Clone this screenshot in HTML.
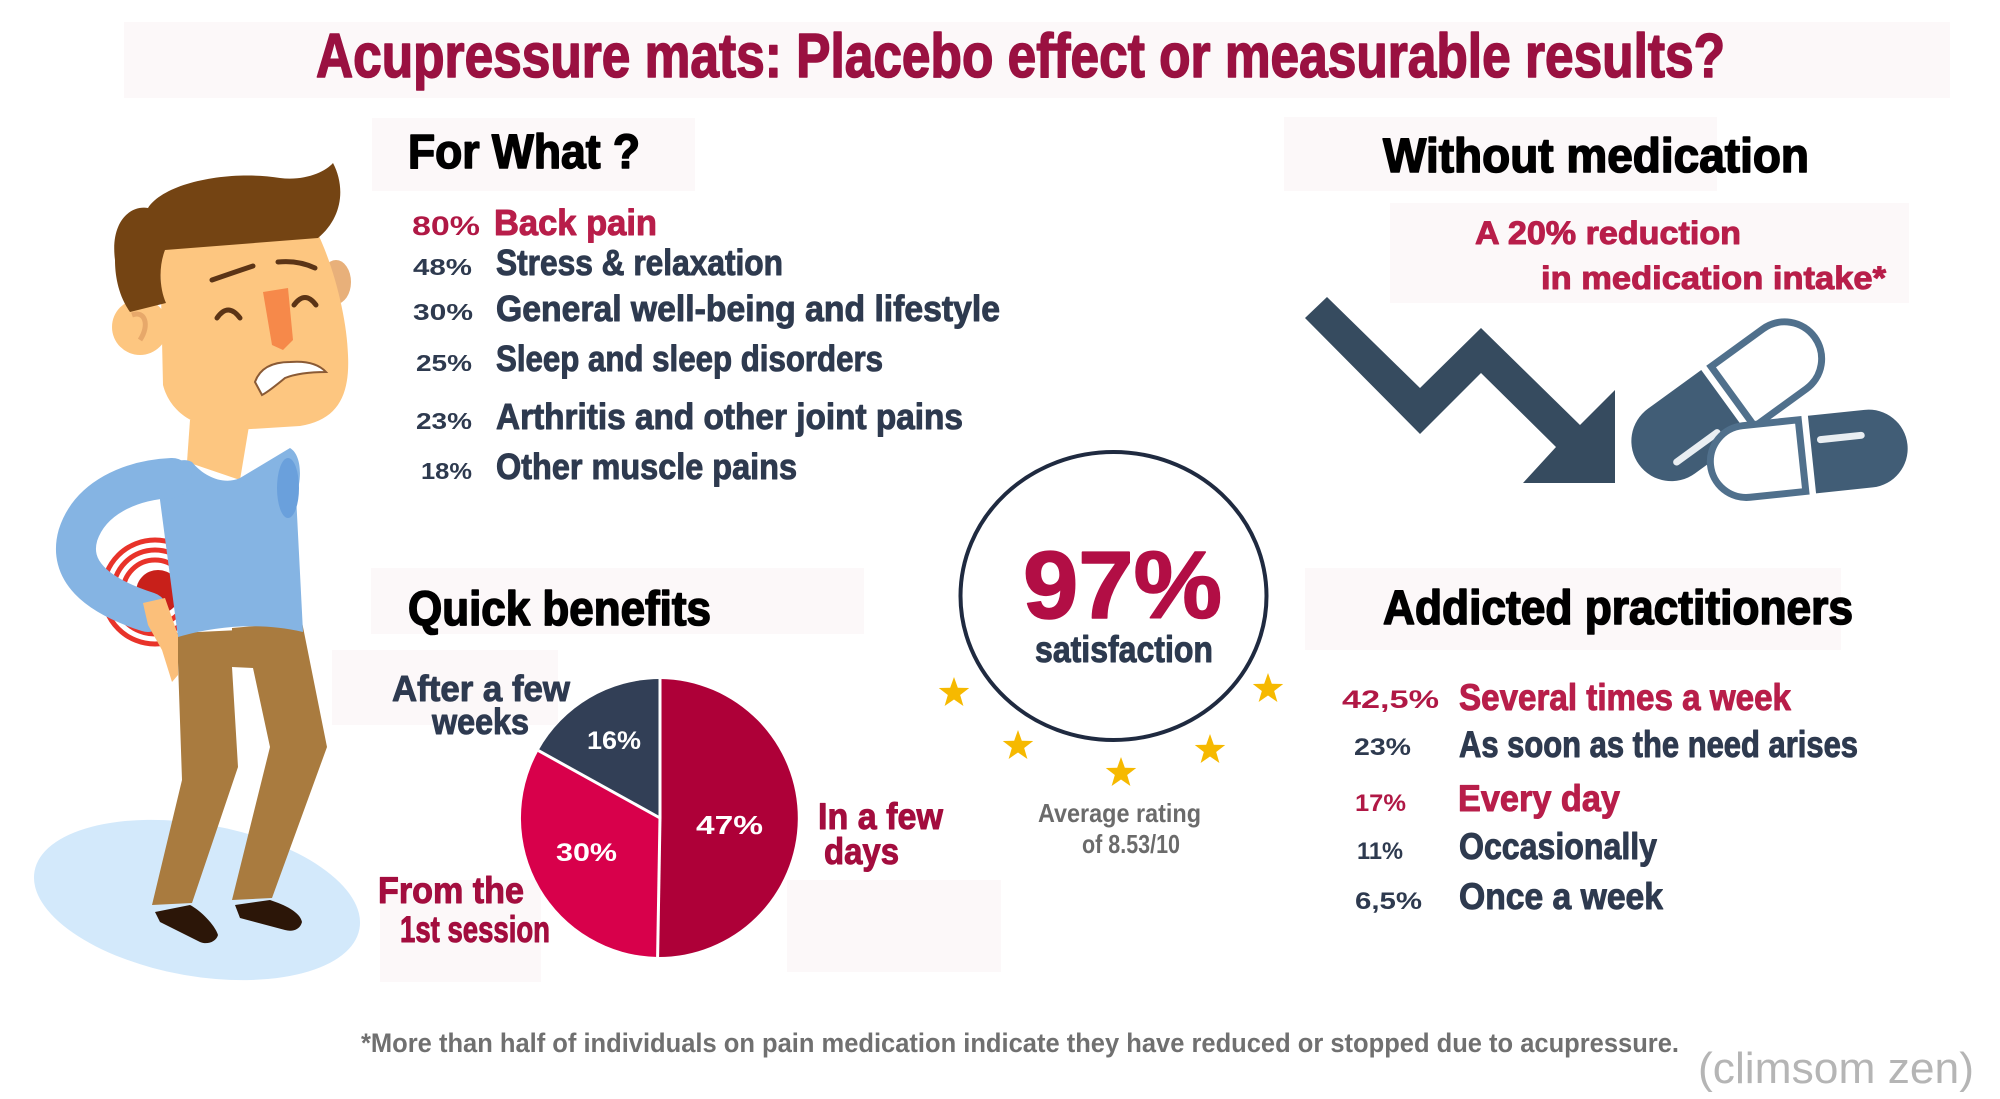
<!DOCTYPE html>
<html>
<head>
<meta charset="utf-8">
<style>
  html,body{margin:0;padding:0;background:#ffffff;}
  svg{display:block;}
  text{font-family:"Liberation Sans", "DejaVu Sans", sans-serif;font-weight:bold;}
  .h{stroke-width:1.6;stroke-linejoin:round;}
  .m{stroke-width:1;stroke-linejoin:round;}
</style>
</head>
<body>
<svg width="2000" height="1099" viewBox="0 0 2000 1099" xmlns="http://www.w3.org/2000/svg">
  <rect x="0" y="0" width="2000" height="1099" fill="#ffffff"/>

  <!-- faint background boxes -->
  <g fill="#fcf8f9">
    <rect x="124" y="22" width="1826" height="76"/>
    <rect x="372" y="118" width="323" height="73"/>
    <rect x="1284" y="117" width="433" height="74"/>
    <rect x="1390" y="203" width="519" height="100"/>
    <rect x="371" y="568" width="493" height="66"/>
    <rect x="332" y="650" width="226" height="75"/>
    <rect x="380" y="880" width="161" height="102"/>
    <rect x="787" y="880" width="214" height="92"/>
    <rect x="1305" y="568" width="536" height="82"/>
  </g>

  <!-- Title -->
  <text class="h" x="316" y="77" font-size="62" fill="#9a1141" stroke="#9a1141" textLength="1409" lengthAdjust="spacingAndGlyphs">Acupressure mats: Placebo effect or measurable results?</text>

  <!-- Section headers -->
  <text class="h" x="408" y="168" font-size="48" fill="#000000" stroke="#000000" textLength="232" lengthAdjust="spacingAndGlyphs">For What ?</text>
  <text class="h" x="1383" y="172" font-size="48" fill="#000000" stroke="#000000" textLength="426" lengthAdjust="spacingAndGlyphs">Without medication</text>
  <text class="h" x="408" y="625" font-size="48" fill="#000000" stroke="#000000" textLength="303" lengthAdjust="spacingAndGlyphs">Quick benefits</text>
  <text class="h" x="1383" y="624" font-size="48" fill="#000000" stroke="#000000" textLength="470" lengthAdjust="spacingAndGlyphs">Addicted practitioners</text>

  <!-- For What list -->
  <text x="412" y="235" font-size="27" fill="#b01845" textLength="68" lengthAdjust="spacingAndGlyphs">80%</text>
  <text class="m" x="494" y="235" font-size="36" fill="#b81e4a" stroke="#b81e4a" textLength="163" lengthAdjust="spacingAndGlyphs">Back pain</text>
  <g fill="#2e3a4f">
    <text x="413" y="275" font-size="23" textLength="59" lengthAdjust="spacingAndGlyphs">48%</text>
    <text class="m" stroke="#2e3a4f" x="496" y="275" font-size="36" textLength="287" lengthAdjust="spacingAndGlyphs">Stress &amp; relaxation</text>
    <text x="413" y="320" font-size="23" textLength="60" lengthAdjust="spacingAndGlyphs">30%</text>
    <text class="m" stroke="#2e3a4f" x="496" y="321" font-size="36" textLength="504" lengthAdjust="spacingAndGlyphs">General well-being and lifestyle</text>
    <text x="416" y="371" font-size="23" textLength="56" lengthAdjust="spacingAndGlyphs">25%</text>
    <text class="m" stroke="#2e3a4f" x="496" y="371" font-size="36" textLength="387" lengthAdjust="spacingAndGlyphs">Sleep and sleep disorders</text>
    <text x="416" y="429" font-size="23" textLength="56" lengthAdjust="spacingAndGlyphs">23%</text>
    <text class="m" stroke="#2e3a4f" x="496" y="429" font-size="36" textLength="467" lengthAdjust="spacingAndGlyphs">Arthritis and other joint pains</text>
    <text x="421" y="479" font-size="23" textLength="51" lengthAdjust="spacingAndGlyphs">18%</text>
    <text class="m" stroke="#2e3a4f" x="496" y="479" font-size="36" textLength="301" lengthAdjust="spacingAndGlyphs">Other muscle pains</text>
  </g>

  <!-- Without medication subtitle -->
  <text class="m" x="1475" y="244" font-size="32" fill="#b81e4a" stroke="#b81e4a" textLength="266" lengthAdjust="spacingAndGlyphs">A 20% reduction</text>
  <text class="m" x="1541" y="289" font-size="32" fill="#b81e4a" stroke="#b81e4a" textLength="345" lengthAdjust="spacingAndGlyphs">in medication intake*</text>

  <!-- Zigzag arrow -->
  <polygon points="1327,297 1420,388 1481,328 1580,425 1615,390 1615,483 1523,483 1556,447 1481,373 1420,434 1305,318" fill="#364b5f"/>

  <!-- Pills -->
  <g transform="translate(1728,400) rotate(-36)">
    <path d="M-4,-40 L-70,-40 A40,40 0 0 0 -70,40 L-4,40 Z" fill="#415d76"/>
    <line x1="-78" y1="20" x2="-28" y2="20" stroke="#e9eef2" stroke-width="7" stroke-linecap="round"/>
    <path d="M6,-37 L70,-37 A37,37 0 0 1 70,37 L6,37 Z" fill="#ffffff" stroke="#50708c" stroke-width="7"/>
  </g>
  <g transform="translate(1808,455) rotate(-6)">
    <path d="M-6,-36 L-62,-36 A36,36 0 0 0 -62,36 L-6,36 Z" fill="#ffffff" stroke="#50708c" stroke-width="7"/>
    <path d="M4,-39 L61,-39 A39,39 0 0 1 61,39 L4,39 Z" fill="#415d76"/>
    <line x1="14" y1="-14" x2="55" y2="-14" stroke="#e9eef2" stroke-width="7" stroke-linecap="round"/>
  </g>

  <!-- Satisfaction circle -->
  <ellipse cx="1113.5" cy="596" rx="153" ry="144" fill="none" stroke="#1f2a40" stroke-width="4"/>
  <text class="h" x="1023" y="618" font-size="96" fill="#b20e45" stroke="#b20e45" textLength="199" lengthAdjust="spacingAndGlyphs">97%</text>
  <text class="m" x="1035" y="662" font-size="37" fill="#2d3a4f" stroke="#2d3a4f" textLength="178" lengthAdjust="spacingAndGlyphs">satisfaction</text>

  <!-- Stars -->
  <g fill="#f6b900">
    <polygon transform="translate(954,693)" points="0,-16 3.82,-5.26 15.22,-4.94 6.18,2.01 9.40,12.94 0,6.5 -9.40,12.94 -6.18,2.01 -15.22,-4.94 -3.82,-5.26"/>
    <polygon transform="translate(1268,689)" points="0,-16 3.82,-5.26 15.22,-4.94 6.18,2.01 9.40,12.94 0,6.5 -9.40,12.94 -6.18,2.01 -15.22,-4.94 -3.82,-5.26"/>
    <polygon transform="translate(1018,746)" points="0,-16 3.82,-5.26 15.22,-4.94 6.18,2.01 9.40,12.94 0,6.5 -9.40,12.94 -6.18,2.01 -15.22,-4.94 -3.82,-5.26"/>
    <polygon transform="translate(1121,773)" points="0,-16 3.82,-5.26 15.22,-4.94 6.18,2.01 9.40,12.94 0,6.5 -9.40,12.94 -6.18,2.01 -15.22,-4.94 -3.82,-5.26"/>
    <polygon transform="translate(1210,750)" points="0,-16 3.82,-5.26 15.22,-4.94 6.18,2.01 9.40,12.94 0,6.5 -9.40,12.94 -6.18,2.01 -15.22,-4.94 -3.82,-5.26"/>
  </g>
  <text x="1038" y="822" font-size="26" fill="#6b6b6b" textLength="163" lengthAdjust="spacingAndGlyphs">Average rating</text>
  <text x="1082" y="853" font-size="26" fill="#6b6b6b" textLength="98" lengthAdjust="spacingAndGlyphs">of 8.53/10</text>

  <!-- Pie chart -->
  <path d="M660,818 L660,679 A139,139 0 1 1 657.6,957 Z" fill="#ae0038"/>
  <path d="M660,818 L657.6,957 A139,139 0 0 1 538.4,750.6 Z" fill="#d8004b"/>
  <path d="M660,818 L538.4,750.6 A139,139 0 0 1 660,679 Z" fill="#323f56"/>
  <g stroke="#ffffff" stroke-width="3">
    <line x1="660" y1="818" x2="660" y2="679"/>
    <line x1="660" y1="818" x2="657.6" y2="957"/>
    <line x1="660" y1="818" x2="538.4" y2="750.6"/>
  </g>
  <g fill="#ffffff">
    <text x="587" y="749" font-size="25" textLength="54" lengthAdjust="spacingAndGlyphs">16%</text>
    <text x="696" y="834" font-size="26" textLength="67" lengthAdjust="spacingAndGlyphs">47%</text>
    <text x="556" y="861" font-size="25" textLength="61" lengthAdjust="spacingAndGlyphs">30%</text>
  </g>

  <!-- Pie labels -->
  <text class="m" x="392" y="701" font-size="36" fill="#2e3a50" stroke="#2e3a50" textLength="178" lengthAdjust="spacingAndGlyphs">After a few</text>
  <text class="m" x="432" y="734" font-size="36" fill="#2e3a50" stroke="#2e3a50" textLength="97" lengthAdjust="spacingAndGlyphs">weeks</text>
  <text class="m" x="378" y="903" font-size="37" fill="#a30d3e" stroke="#a30d3e" textLength="146" lengthAdjust="spacingAndGlyphs">From the</text>
  <text class="m" x="400" y="942" font-size="37" fill="#a30d3e" stroke="#a30d3e" textLength="150" lengthAdjust="spacingAndGlyphs">1st session</text>
  <text class="m" x="818" y="829" font-size="37" fill="#a30d3e" stroke="#a30d3e" textLength="125" lengthAdjust="spacingAndGlyphs">In a few</text>
  <text class="m" x="824" y="864" font-size="37" fill="#a30d3e" stroke="#a30d3e" textLength="75" lengthAdjust="spacingAndGlyphs">days</text>

  <!-- Addicted list -->
  <text x="1342" y="708" font-size="25" fill="#b01845" textLength="97" lengthAdjust="spacingAndGlyphs">42,5%</text>
  <text class="m" x="1459" y="710" font-size="37" fill="#b81e4a" stroke="#b81e4a" textLength="332" lengthAdjust="spacingAndGlyphs">Several times a week</text>
  <text x="1354" y="755" font-size="24" fill="#2e3a4f" textLength="57" lengthAdjust="spacingAndGlyphs">23%</text>
  <text class="m" x="1459" y="757" font-size="37" fill="#2e3a4f" stroke="#2e3a4f" textLength="399" lengthAdjust="spacingAndGlyphs">As soon as the need arises</text>
  <text x="1355" y="811" font-size="24" fill="#b01845" textLength="51" lengthAdjust="spacingAndGlyphs">17%</text>
  <text class="m" x="1458" y="811" font-size="37" fill="#b81e4a" stroke="#b81e4a" textLength="162" lengthAdjust="spacingAndGlyphs">Every day</text>
  <text x="1357" y="859" font-size="24" fill="#2e3a4f" textLength="46" lengthAdjust="spacingAndGlyphs">11%</text>
  <text class="m" x="1459" y="859" font-size="37" fill="#2e3a4f" stroke="#2e3a4f" textLength="198" lengthAdjust="spacingAndGlyphs">Occasionally</text>
  <text x="1355" y="909" font-size="24" fill="#2e3a4f" textLength="67" lengthAdjust="spacingAndGlyphs">6,5%</text>
  <text class="m" x="1459" y="909" font-size="37" fill="#2e3a4f" stroke="#2e3a4f" textLength="204" lengthAdjust="spacingAndGlyphs">Once a week</text>

  <!-- Footnote -->
  <text x="361" y="1052" font-size="27" fill="#707070" textLength="1318" lengthAdjust="spacingAndGlyphs">*More than half of individuals on pain medication indicate they have reduced or stopped due to acupressure.</text>
  <text x="1698" y="1083" font-size="44" fill="#b5b5b5" style="font-weight:normal" textLength="276" lengthAdjust="spacingAndGlyphs">(climsom zen)</text>

  <!-- Man illustration -->
  <ellipse cx="197" cy="900" rx="165" ry="76" transform="rotate(10 197 900)" fill="#d3e9fb"/>

  <!-- red pain rings -->
  <g fill="none">
    <circle cx="155" cy="592" r="52" stroke="#e8332a" stroke-width="5"/>
    <circle cx="155" cy="592" r="42" stroke="#e8332a" stroke-width="5"/>
    <circle cx="155" cy="592" r="32" stroke="#e8332a" stroke-width="5"/>
  </g>
  <circle cx="158" cy="592" r="22" fill="#c8201a"/>

  <!-- pants -->
  <polygon points="177,633 240,630 232,667 238,767 192,903 152,905 182,780" fill="#a97b3f"/>
  <polygon points="232,628 302,622 327,747 272,898 232,900 270,747 253,668 232,667" fill="#a97b3f"/>
  <!-- shoes -->
  <path d="M155,912 L190,905 C200,910 215,925 218,935 C216,942 207,945 200,942 L160,922 Z" fill="#2c1608"/>
  <path d="M235,905 L270,900 C285,905 300,912 302,922 C300,930 292,932 285,930 L240,918 Z" fill="#2c1608"/>

  <!-- neck -->
  <polygon points="190,420 250,420 240,480 187,462" fill="#fdc680"/>
  <!-- shirt body -->
  <path d="M160,470 C175,460 185,458 192,462 C205,478 225,485 240,478 L290,448 C302,455 302,480 296,495 L303,632 C260,622 215,626 178,637 L160,500 Z" fill="#85b4e3"/>
  <ellipse cx="288" cy="488" rx="11" ry="30" fill="#6aa0dc"/>
  <!-- arm -->
  <path d="M172,478 C130,480 90,498 78,535 C68,570 95,595 148,612" fill="none" stroke="#85b4e3" stroke-width="40" stroke-linecap="round"/>
  <!-- hand -->
  <polygon points="143,603 165,598 178,635 178,675 172,682 162,650 148,625" fill="#fbbf7a"/>

  <!-- head -->
  <circle cx="140" cy="327" r="28" fill="#fdc680"/>
  <path d="M132,315 C145,310 150,325 140,340" fill="none" stroke="#e7a86a" stroke-width="5"/>
  <ellipse cx="336" cy="282" rx="15" ry="22" fill="#e8b07a"/>
  <path d="M160,250 L318,234 C335,270 347,320 348,355 C350,395 338,420 300,426 L235,430 C195,430 170,412 163,385 Z" fill="#fdc680"/>
  <!-- hair -->
  <path d="M115,260 C110,222 130,205 148,208 C165,182 230,170 280,178 C305,181 325,172 333,163 C346,188 342,218 318,238 L165,250 C158,268 160,290 166,303 L130,312 C118,295 115,275 115,260 Z" fill="#744413"/>
  <!-- brows & eyes -->
  <g fill="none" stroke="#5b3416" stroke-width="5" stroke-linecap="round">
    <path d="M212,280 Q235,272 253,266"/>
    <path d="M278,262 Q298,260 315,268"/>
    <path d="M217,318 Q228,302 240,318"/>
    <path d="M294,305 Q305,290 316,305"/>
  </g>
  <!-- nose -->
  <polygon points="263,292 288,288 293,340 283,350 272,345" fill="#f6894a"/>
  <!-- mouth -->
  <path d="M255,382 Q262,362 290,362 Q315,360 326,372 Q300,372 285,378 Q268,392 262,395 Z" fill="#ffffff" stroke="#8a5a35" stroke-width="2"/>
</svg>
</body>
</html>
